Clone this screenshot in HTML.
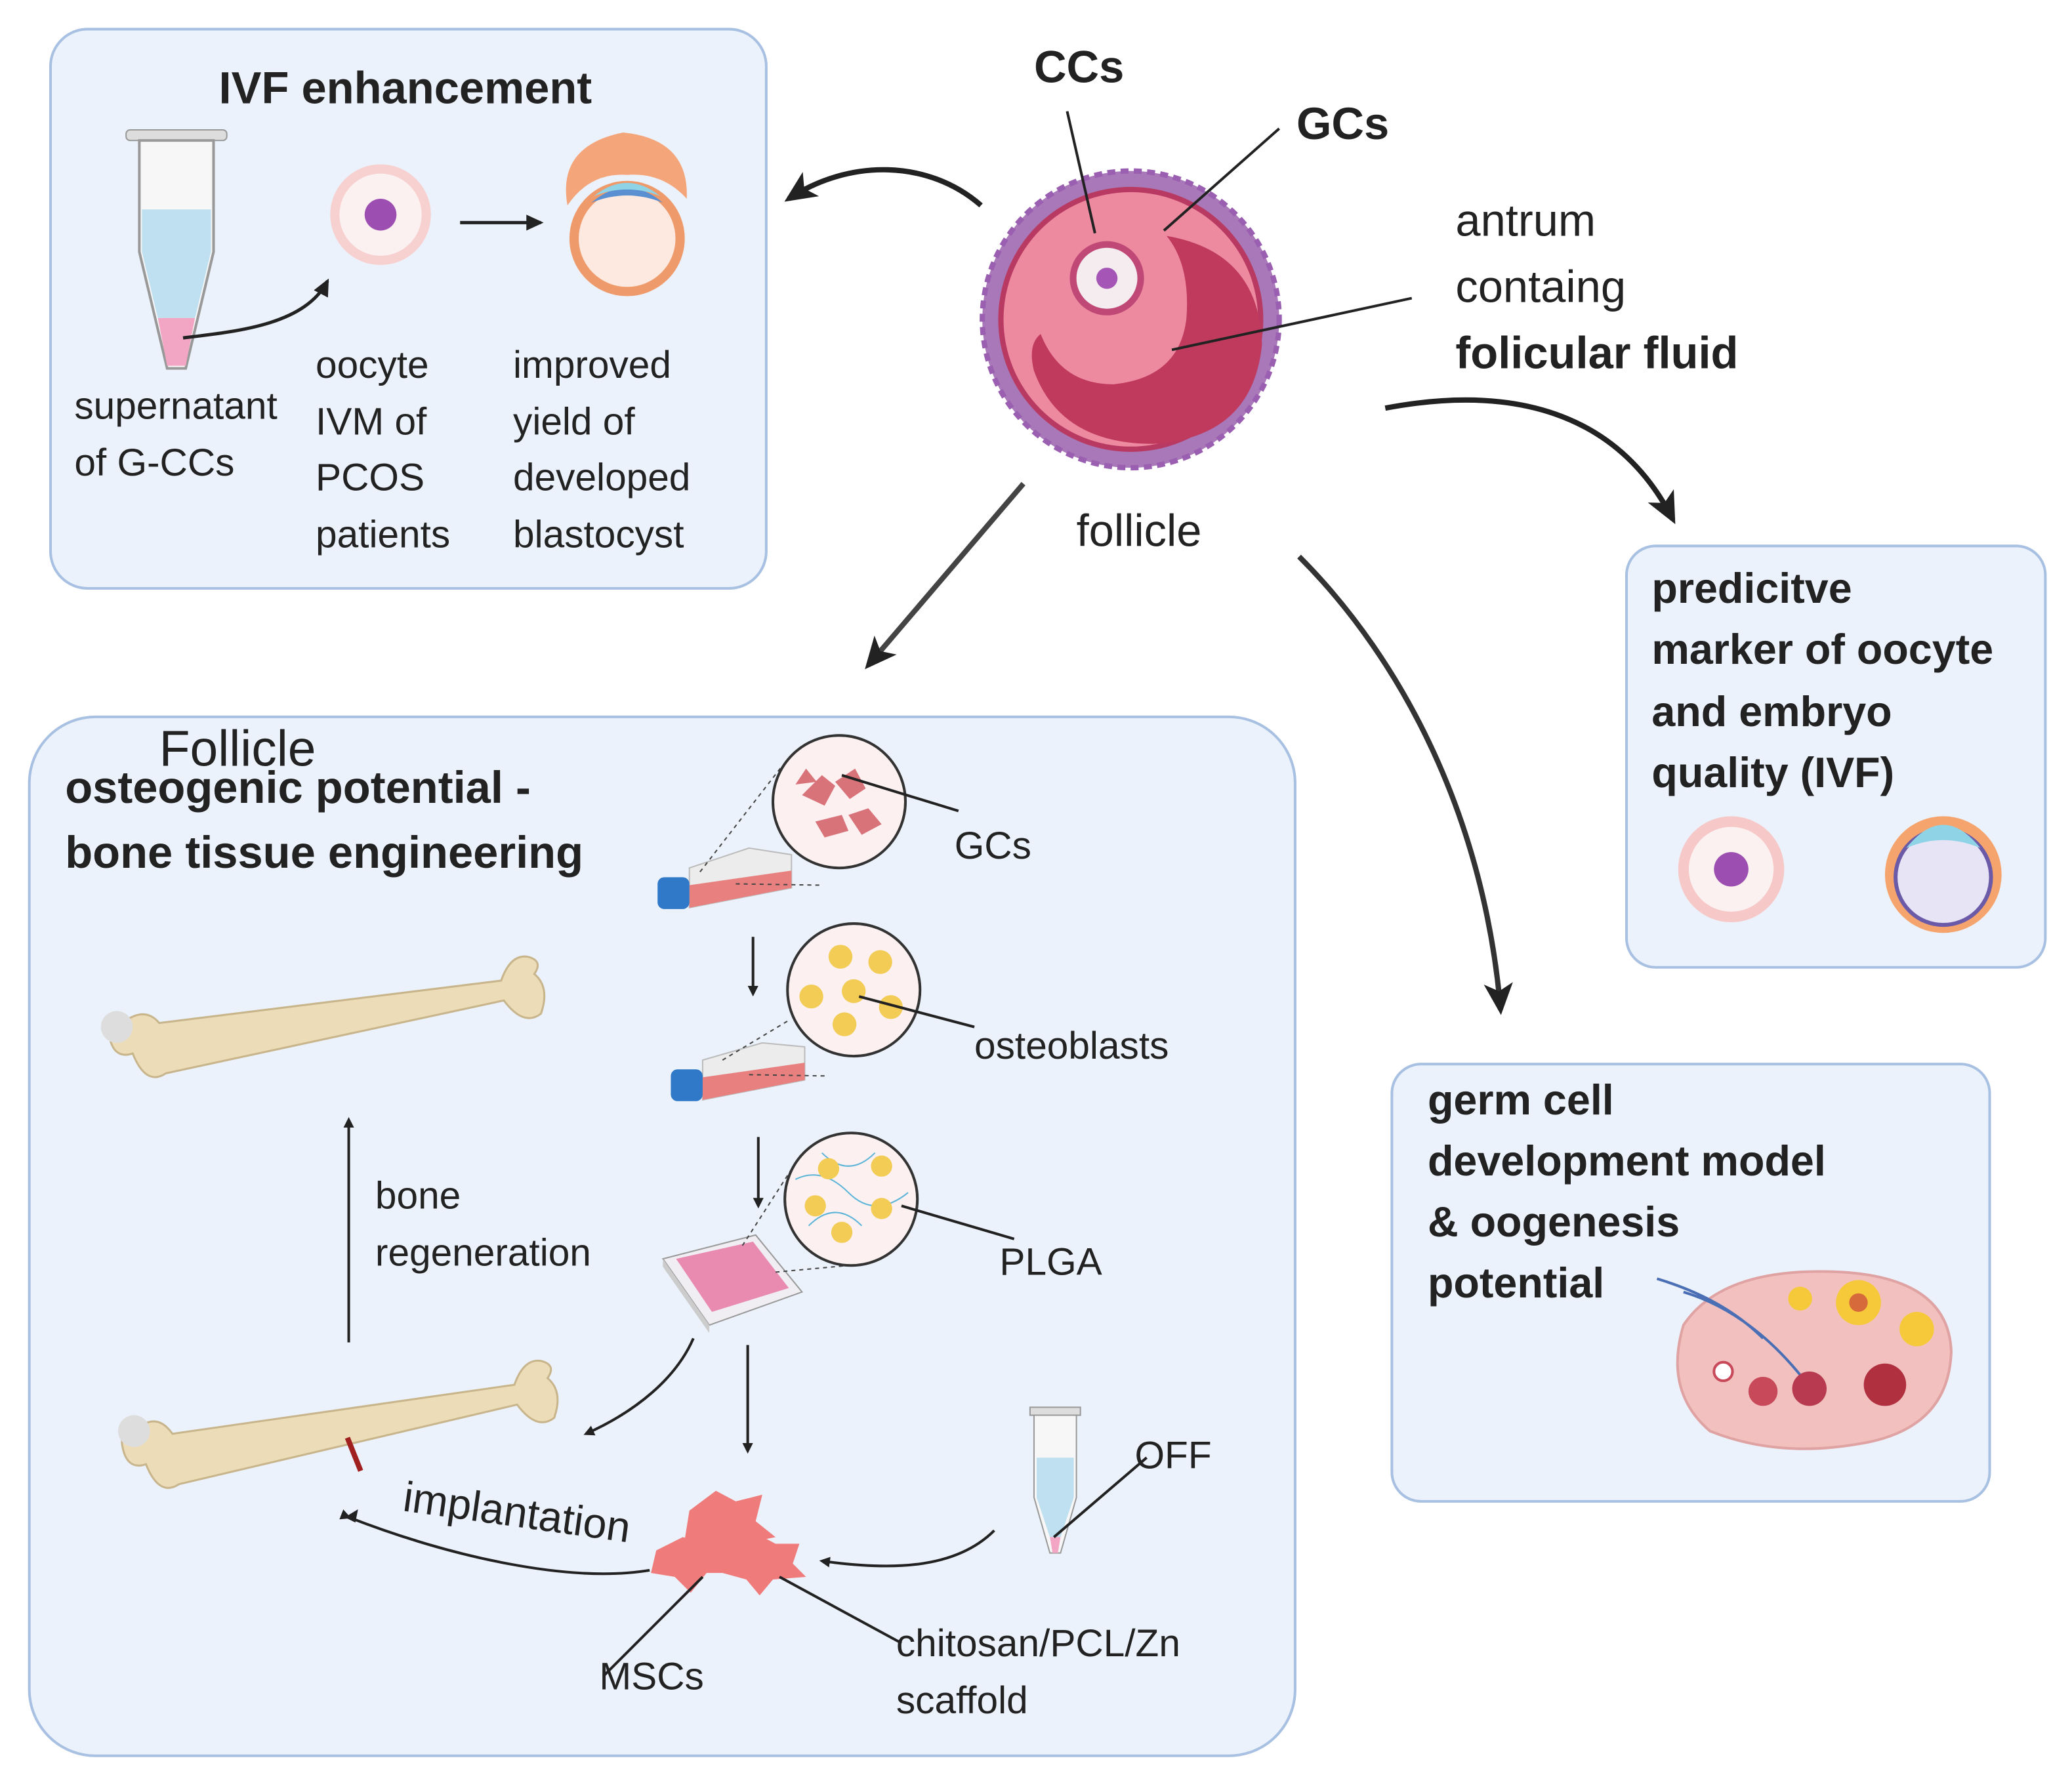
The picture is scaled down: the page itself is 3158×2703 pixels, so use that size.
<!DOCTYPE html>
<html><head><meta charset="utf-8"><style>
html,body{margin:0;padding:0;background:#fff}
svg{display:block}
text{font-family:"Liberation Sans",sans-serif;fill:#222}
.b{font-weight:bold}
</style></head><body>
<svg width="3158" height="2703" viewBox="0 0 1563 1338" xmlns="http://www.w3.org/2000/svg">
<defs>
<marker id="ah" markerWidth="8" markerHeight="8" refX="6" refY="4" orient="auto" markerUnits="userSpaceOnUse" viewBox="0 0 8 8"><path d="M0,0 L8,4 L0,8 z" fill="#222"/></marker>
<marker id="AH" markerWidth="26" markerHeight="26" refX="20" refY="13" orient="auto" markerUnits="userSpaceOnUse" viewBox="0 0 26 26"><path d="M0,2 L24,13 L0,24 L6,13 z" fill="#222"/></marker>
<marker id="sa" markerWidth="14" markerHeight="14" refX="11" refY="7" orient="auto" markerUnits="userSpaceOnUse" viewBox="0 0 14 14"><path d="M0,1 L13,7 L0,13 z" fill="#222"/></marker>
<linearGradient id="fg1" x1="1" y1="0" x2="0" y2="1"><stop offset="0" stop-color="#eee"/><stop offset="1" stop-color="#222"/></linearGradient>
</defs>

<!-- boxes -->
<rect x="38" y="22" width="540" height="422" rx="28" fill="#ebf2fb" stroke="#a8c0e2" stroke-width="2"/>
<rect x="22" y="541" width="955" height="784" rx="50" fill="#ebf2fb" stroke="#a8c0e2" stroke-width="2"/>
<rect x="1227" y="412" width="316" height="318" rx="22" fill="#ebf2fb" stroke="#a8c0e2" stroke-width="2"/>
<rect x="1050" y="803" width="451" height="330" rx="22" fill="#ebf2fb" stroke="#a8c0e2" stroke-width="2"/>

<!-- IVF box -->
<text x="165" y="78" font-size="34" class="b">IVF enhancement</text>
<rect x="95" y="98" width="76" height="8" rx="3" fill="#ddd" stroke="#999"/>
<path d="M105,106 L161,106 L161,190 L140,278 L126,278 L105,190 z" fill="#f7f7f7" stroke="#999" stroke-width="2"/>
<path d="M107,158 L159,158 L159,190 L147,240 L119,240 L107,190 z" fill="#bfe0f0"/>
<path d="M119,240 L147,240 L140,276 L126,276 z" fill="#f2a6c4"/>
<path d="M138,255 C180,250 230,245 247,212" fill="none" stroke="#222" stroke-width="2.5" marker-end="url(#sa)"/>
<circle cx="287" cy="162" r="38" fill="#f7d1cf"/>
<circle cx="287" cy="162" r="31" fill="#fcf1f1"/>
<circle cx="287" cy="162" r="12" fill="#9c4fb0"/>
<line x1="347" y1="168" x2="408" y2="168" stroke="#222" stroke-width="2.5" marker-end="url(#sa)"/>
<circle cx="473" cy="180" r="40" fill="#fde9df" stroke="#ef9a6a" stroke-width="7"/>
<path d="M428,155 Q420,110 470,100 Q520,105 518,150 Q500,130 473,132 Q445,130 428,155z" fill="#f4a57a"/>
<path d="M446,153 Q473,130 500,153 Q473,142 446,153z" fill="#5a8fd1"/>
<path d="M448,148 Q473,128 498,148 Q473,138 448,148z" fill="#8fd3e6"/>
<text font-size="29"><tspan x="56" y="316">supernatant</tspan><tspan x="56" y="359">of G-CCs</tspan></text>
<text font-size="29"><tspan x="238" y="285">oocyte</tspan><tspan x="238" y="328">IVM of</tspan><tspan x="238" y="370">PCOS</tspan><tspan x="238" y="413">patients</tspan></text>
<text font-size="29"><tspan x="387" y="285">improved</tspan><tspan x="387" y="328">yield of</tspan><tspan x="387" y="370">developed</tspan><tspan x="387" y="413">blastocyst</tspan></text>

<!-- follicle -->
<circle cx="853" cy="241" r="112" fill="#a978b8" stroke="#9a5fb0" stroke-width="4" stroke-dasharray="6 4"/>
<circle cx="853" cy="241" r="100" fill="#b83a62"/>
<circle cx="853" cy="241" r="96" fill="#ee8aa0"/>
<path d="M880,178 Q950,190 952,260 Q945,330 870,335 Q800,335 780,280 Q775,260 785,252 Q800,290 840,290 Q890,285 895,240 Q898,200 880,178z" fill="#bf3a5d"/>
<circle cx="835" cy="210" r="28" fill="#c04877"/>
<circle cx="835" cy="210" r="23" fill="#f4ecee"/>
<circle cx="835" cy="210" r="8" fill="#a455b5"/>
<text x="780" y="62" font-size="34" class="b">CCs</text>
<text x="978" y="105" font-size="34" class="b">GCs</text>
<line x1="805" y1="84" x2="826" y2="176" stroke="#222" stroke-width="2"/>
<line x1="965" y1="97" x2="878" y2="174" stroke="#222" stroke-width="2"/>
<line x1="1065" y1="225" x2="884" y2="264" stroke="#222" stroke-width="2"/>
<text font-size="34"><tspan x="1098" y="178">antrum</tspan><tspan x="1098" y="228">containg</tspan></text>
<text x="1098" y="278" font-size="34" class="b">folicular fluid</text>
<text x="812" y="412" font-size="34">follicle</text>

<!-- main arrows -->
<path d="M740,155 C700,120 640,120 595,150" fill="none" stroke="#222" stroke-width="4" marker-end="url(#AH)"/>
<path d="M772,365 L655,502" fill="none" stroke="#444" stroke-width="4" marker-end="url(#AH)"/>
<path d="M1045,308 C1140,290 1220,310 1262,392" fill="none" stroke="#222" stroke-width="4" marker-end="url(#AH)"/>
<path d="M980,420 C1060,500 1120,620 1132,762" fill="none" stroke="#333" stroke-width="4" marker-end="url(#AH)"/>

<!-- predictive -->
<text font-size="32" class="b"><tspan x="1246" y="455">predicitve</tspan><tspan x="1246" y="501">marker of oocyte</tspan><tspan x="1246" y="548">and embryo</tspan><tspan x="1246" y="594">quality (IVF)</tspan></text>
<circle cx="1306" cy="656" r="40" fill="#f6c9c8"/>
<circle cx="1306" cy="656" r="32" fill="#fcf1f1"/>
<circle cx="1306" cy="656" r="13" fill="#9c4fb0"/>
<circle cx="1466" cy="660" r="44" fill="#f6a46e"/>
<circle cx="1466" cy="662" r="36" fill="#e7e4f6" stroke="#6b5aa8" stroke-width="3"/>
<path d="M1438,640 Q1466,605 1494,640 Q1466,628 1438,640z" fill="#8fd3e6"/>

<!-- germ cell -->
<text font-size="32" class="b"><tspan x="1077" y="841">germ cell</tspan><tspan x="1077" y="887">development model</tspan><tspan x="1077" y="933">&amp; oogenesis</tspan><tspan x="1077" y="979">potential</tspan></text>
<path d="M1270,1000 Q1300,955 1390,960 Q1470,965 1472,1020 Q1470,1080 1400,1090 Q1340,1100 1290,1080 Q1255,1050 1270,1000z" fill="#f2c1bf" stroke="#e0a3a3" stroke-width="2"/>
<path d="M1250,965 Q1300,980 1330,1010 M1270,975 Q1320,990 1360,1040" stroke="#4a6fb5" stroke-width="2" fill="none"/>
<circle cx="1402" cy="983" r="17" fill="#f5c93a"/><circle cx="1402" cy="983" r="7" fill="#d66a3a"/>
<circle cx="1446" cy="1003" r="13" fill="#f5c93a"/>
<circle cx="1358" cy="980" r="9" fill="#f5c93a"/>
<circle cx="1330" cy="1050" r="11" fill="#c84a5a"/><circle cx="1365" cy="1048" r="13" fill="#b83a50"/>
<circle cx="1422" cy="1045" r="16" fill="#b03040"/>
<circle cx="1300" cy="1035" r="7" fill="#fff" stroke="#c84a5a" stroke-width="2"/>

<!-- osteogenic -->
<text x="120" y="578" font-size="38">Follicle</text>
<text font-size="34" class="b"><tspan x="49" y="606">osteogenic potential  -</tspan><tspan x="49" y="655">bone tissue engineering</tspan></text>

<!-- flask 1 -->
<g>
<path d="M520,655 L565,640 L597,645 L597,670 L520,685 z" fill="#ececec" stroke="#bbb"/>
<path d="M520,668 L597,657 L597,670 L520,685 z" fill="#e88080"/>
<rect x="496" y="662" width="24" height="24" rx="5" fill="#2f79c8"/>
<line x1="528" y1="658" x2="590" y2="578" stroke="#444" stroke-dasharray="3 3"/>
<line x1="555" y1="667" x2="620" y2="668" stroke="#444" stroke-dasharray="3 3"/>
<circle cx="633" cy="605" r="50" fill="#fcf0f0" stroke="#333" stroke-width="2"/>
<path d="M605,600 l15,-15 l10,8 l-8,15z M630,590 l15,-10 l8,15 l-12,8z M615,620 l20,-5 l5,12 l-18,5z M640,615 l15,-5 l10,12 l-15,8z M600,592 l8,-12 l8,10z" fill="#d9737a"/>
<line x1="635" y1="585" x2="723" y2="612" stroke="#222" stroke-width="2"/>
<text x="720" y="648" font-size="29">GCs</text>
</g>
<line x1="568" y1="707" x2="568" y2="750" stroke="#222" stroke-width="2" marker-end="url(#ah)"/>
<!-- flask 2 -->
<g>
<path d="M530,800 L575,787 L607,790 L607,815 L530,830 z" fill="#ececec" stroke="#bbb"/>
<path d="M530,813 L607,802 L607,815 L530,830 z" fill="#e88080"/>
<rect x="506" y="807" width="24" height="24" rx="5" fill="#2f79c8"/>
<line x1="545" y1="800" x2="595" y2="770" stroke="#444" stroke-dasharray="3 3"/>
<line x1="565" y1="811" x2="625" y2="812" stroke="#444" stroke-dasharray="3 3"/>
<circle cx="644" cy="747" r="50" fill="#fcf0f0" stroke="#333" stroke-width="2"/>
<g fill="#f2cc55"><circle cx="634" cy="722" r="9"/><circle cx="664" cy="726" r="9"/><circle cx="612" cy="752" r="9"/><circle cx="644" cy="748" r="9"/><circle cx="672" cy="760" r="9"/><circle cx="637" cy="773" r="9"/></g>
<line x1="648" y1="752" x2="735" y2="775" stroke="#222" stroke-width="2"/>
<text x="735" y="799" font-size="29">osteoblasts</text>
</g>
<line x1="572" y1="858" x2="572" y2="910" stroke="#222" stroke-width="2" marker-end="url(#ah)"/>
<!-- plate -->
<g>
<path d="M500,950 L570,932 L605,975 L535,1000 z" fill="#f0eef2" stroke="#999"/>
<path d="M510,950 L568,937 L595,972 L537,990 z" fill="#e98bb0"/>
<path d="M500,950 L535,1000 L535,1006 L500,956z" fill="#ccc"/>
<line x1="560" y1="940" x2="605" y2="870" stroke="#444" stroke-dasharray="3 3"/>
<line x1="585" y1="960" x2="640" y2="955" stroke="#444" stroke-dasharray="3 3"/>
<circle cx="642" cy="905" r="50" fill="#fcf0f0" stroke="#333" stroke-width="2"/>
<path d="M600,890 Q620,880 640,900 T685,900 M610,925 Q630,905 650,925 M620,870 Q640,890 660,870" stroke="#5ab4d8" fill="none"/>
<g fill="#f2cc55"><circle cx="625" cy="882" r="8"/><circle cx="665" cy="880" r="8"/><circle cx="615" cy="910" r="8"/><circle cx="665" cy="912" r="8"/><circle cx="635" cy="930" r="8"/></g>
<line x1="680" y1="910" x2="765" y2="935" stroke="#222" stroke-width="2"/>
<text x="754" y="962" font-size="29">PLGA</text>
</g>
<line x1="564" y1="1015" x2="564" y2="1095" stroke="#222" stroke-width="2" marker-end="url(#ah)"/>
<path d="M523,1010 C510,1040 480,1065 442,1082" fill="none" stroke="#222" stroke-width="2" marker-end="url(#ah)"/>

<!-- bones -->
<g fill="#ecdcb8" stroke="#c8b58c" stroke-width="1.5">
<path d="M95,770 Q80,760 82,780 Q85,800 100,795 Q110,820 125,810 L380,755 Q395,775 408,765 Q415,745 403,735 Q410,725 398,722 Q385,720 378,740 L120,772 Q110,760 95,770z"/>
<path d="M108,1075 Q90,1068 92,1090 Q95,1110 110,1105 Q120,1130 135,1120 L390,1060 Q405,1080 418,1070 Q425,1050 413,1040 Q420,1030 408,1027 Q395,1025 388,1045 L130,1082 Q120,1068 108,1075z"/>
</g>
<circle cx="88" cy="775" r="12" fill="#ddd"/><circle cx="101" cy="1080" r="12" fill="#ddd"/>
<line x1="262" y1="1085" x2="272" y2="1110" stroke="#a02020" stroke-width="4"/>
<line x1="263" y1="1013" x2="263" y2="845" stroke="#222" stroke-width="2" marker-end="url(#ah)"/>
<text font-size="29"><tspan x="283" y="912">bone</tspan><tspan x="283" y="955">regeneration</tspan></text>

<!-- MSCs -->
<g fill="#ef7b7b"><path d="M520,1140 l20,-15 l15,8 l20,-5 l-5,20 l15,12 l-25,5 l-10,15 l-15,-12 l-20,3z"/><path d="M495,1170 l20,-10 l18,5 l15,-5 l0,15 l10,12 l-25,0 l-12,15 l-12,-12 l-18,-3z"/><path d="M550,1165 l20,-8 l15,8 l18,0 l-5,15 l10,10 l-25,2 l-10,12 l-10,-12 l-18,-5z"/></g>
<path d="M263,1145 C340,1175 430,1195 490,1185" fill="none" stroke="#222" stroke-width="2" marker-start="url(#ah)"/>
<path d="M260,1145 l10,-6 l-2,10z" fill="#222"/>
<text x="303" y="1140" font-size="32" transform="rotate(8 303 1140)">implantation</text>
<path d="M750,1155 C720,1185 670,1185 620,1178" fill="none" stroke="#222" stroke-width="2" marker-end="url(#ah)"/>
<rect x="777" y="1062" width="38" height="6" fill="#ddd" stroke="#999"/>
<path d="M780,1068 L812,1068 L812,1130 L800,1172 L792,1172 L780,1130z" fill="#f7f7f7" stroke="#999"/>
<path d="M782,1100 L810,1100 L810,1130 L800,1160 L792,1160 L782,1130z" fill="#bfe0f0"/>
<path d="M792,1160 L800,1160 L798,1172 L794,1172z" fill="#f2a6c4"/>
<line x1="795" y1="1160" x2="865" y2="1100" stroke="#222" stroke-width="2"/>
<text x="856" y="1108" font-size="29">OFF</text>
<line x1="530" y1="1190" x2="455" y2="1265" stroke="#222" stroke-width="2"/>
<text x="452" y="1275" font-size="29">MSCs</text>
<line x1="588" y1="1190" x2="680" y2="1240" stroke="#222" stroke-width="2"/>
<text font-size="29"><tspan x="676" y="1250">chitosan/PCL/Zn</tspan><tspan x="676" y="1293">scaffold</tspan></text>
</svg>
</body></html>
